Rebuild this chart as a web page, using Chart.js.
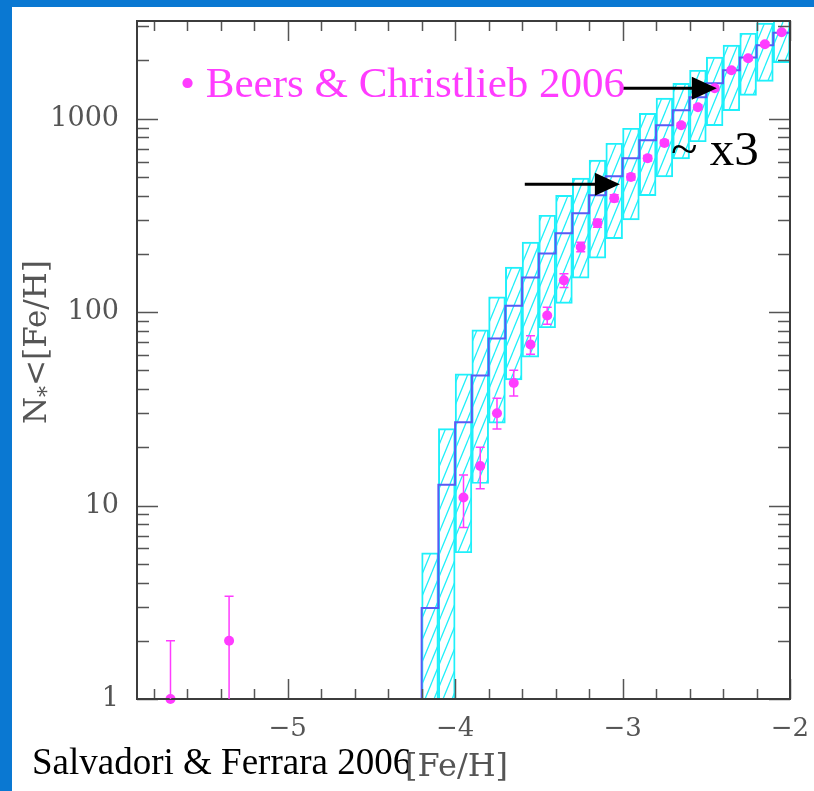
<!DOCTYPE html>
<html><head><meta charset="utf-8">
<script src="https://cdn.jsdelivr.net/npm/chart.js@4.4.0/dist/chart.umd.min.js"></script>
<style>
html,body{margin:0;padding:0;background:#fff;}
body{width:814px;height:791px;position:relative;overflow:hidden;}
#frameL{position:absolute;left:0;top:0;width:12px;height:791px;background:#0a78d2;}
#frameT{position:absolute;left:0;top:0;width:814px;height:7px;background:#0a78d2;}
canvas{position:absolute;left:0;top:0;}
</style></head><body>
<div id="frameL"></div><div id="frameT"></div>
<canvas id="c" width="814" height="791"></canvas>
<script>
// ---- model (Salvadori & Ferrara 2006): cumulative histogram, bins of 0.1 dex ----
const BIN = 0.1;
const binLeft  = [-4.2,-4.1,-4.0,-3.9,-3.8,-3.7,-3.6,-3.5,-3.4,-3.3,-3.2,-3.1,-3.0,-2.9,-2.8,-2.7,-2.6,-2.5,-2.4,-2.3,-2.2,-2.1];
const modelMedian = [2.95,12.8,27,47,73,108,151,201,256,325,402,504,625,774,925,1107,1292,1525,1780,2070,2400,2780];
const bandLow  = [0.5,0.5,5.7,13,26.7,44.6,58.5,83,111,150,190,240,300,400,500,620,760,920,1100,1320,1560,1950];
const bandHigh = [5.7,25,48,81,120,171,230,317,402,493,611,747,893,1067,1277,1525,1781,2080,2400,2767,3118,3550];

// ---- observations (Beers & Christlieb 2006) ----
const obsX  = [-5.7,-5.35,-3.95,-3.85,-3.75,-3.65,-3.55,-3.45,-3.35,-3.25,-3.15,-3.05,-2.95,-2.85,-2.75,-2.65,-2.55,-2.45,-2.35,-2.25,-2.15,-2.05];
const obsY  = [1,2,11,16,30,43,68,96,146,217,288,388,500,625,750,925,1147,1438,1780,2055,2427,2800];
const obsLo = [0.5,0.5,7.7,12.2,24.9,36.8,60.5,86.7,134,205,275,372,482,605,728,900,1115,1400,1735,2010,2375,2745];
const obsHi = [2.0,3.4,14.4,20.0,35.9,50,75.6,106,158,230,302,405,518,645,772,950,1180,1475,1825,2100,2480,2855];

// ---- axis ----
const X_MIN = -5.9, X_MAX = -2, Y_MIN = 1, Y_MAX = 3200;
const xLabelValues = [-5,-4,-3,-2];
const yLabelValues = [1,10,100,1000];

// ---- annotation arrows (data units) ----
const arrows = [{x0:-3.016, x1:-2.437, y:1438}, {x0:-3.584, x1:-3.016, y:459}];

const CYAN = '#1ff0fa', MAG = '#ff3cff', BLUE = '#5a5af5', AXIS = '#3c3c3c', TXT = '#555';

const canvas = document.getElementById('c');
const ctx = canvas.getContext('2d');

function makeHatch(){
  const w = 9, h = 22;
  const c = document.createElement('canvas'); c.width = w; c.height = h;
  const g = c.getContext('2d');
  g.strokeStyle = CYAN; g.lineWidth = 1.3;
  g.beginPath();
  for (const dx of [-w, 0, w]) { g.moveTo(dx, h); g.lineTo(dx + w, 0); }
  g.stroke();
  return ctx.createPattern(c, 'repeat');
}

const frameTicks = {
  id: 'frameTicks',
  afterDatasetsDraw(chart){
    const {ctx, chartArea:a, scales:{x, y}} = chart;
    ctx.save();
    ctx.strokeStyle = TXT; ctx.lineWidth = 1.5;
    ctx.beginPath();
    x.ticks.forEach(t => {
      const v = t.value;
      if (Math.abs(v*5 - Math.round(v*5)) > 1e-6) return;
      const major = Math.abs(v - Math.round(v)) < 1e-6;
      const L = major ? 20 : 10;
      const px = Math.round(x.getPixelForValue(v)) + 0.5;
      ctx.moveTo(px, a.bottom); ctx.lineTo(px, a.bottom - L);
      ctx.moveTo(px, a.top); ctx.lineTo(px, a.top + L);
    });
    y.ticks.forEach(t => {
      const v = t.value;
      if (v < Y_MIN - 1e-9 || v > Y_MAX) return;
      const p = Math.pow(10, Math.floor(Math.log10(v) + 1e-9));
      const m = v / p;
      if (Math.abs(m - Math.round(m)) > 1e-6) return;
      const L = Math.round(m) === 1 ? 21 : 12;
      const py = Math.round(y.getPixelForValue(v)) + 0.5;
      ctx.moveTo(a.left, py); ctx.lineTo(a.left + L, py);
      ctx.moveTo(a.right, py); ctx.lineTo(a.right - L, py);
    });
    ctx.stroke();
    ctx.strokeStyle = AXIS; ctx.lineWidth = 2;
    ctx.strokeRect(a.left, a.top, a.right - a.left, a.bottom - a.top);

    // error bars
    ctx.save();
    ctx.beginPath(); ctx.rect(a.left, a.top - 1, a.right - a.left, a.bottom - a.top + 1); ctx.clip();
    ctx.strokeStyle = MAG; ctx.lineWidth = 1.5;
    ctx.beginPath();
    obsX.forEach((vx, i) => {
      const px = x.getPixelForValue(vx);
      const p1 = y.getPixelForValue(obsLo[i]), p2 = y.getPixelForValue(obsHi[i]);
      ctx.moveTo(px, p1); ctx.lineTo(px, p2);
      ctx.moveTo(px - 4.5, p1); ctx.lineTo(px + 4.5, p1);
      ctx.moveTo(px - 4.5, p2); ctx.lineTo(px + 4.5, p2);
    });
    ctx.stroke();
    ctx.restore();
    ctx.restore();
  },
  afterDraw(chart){
    const {ctx, scales:{x, y}} = chart;
    ctx.save();
    // arrows
    ctx.fillStyle = '#000'; ctx.strokeStyle = '#000'; ctx.lineWidth = 3;
    arrows.forEach(ar => {
      const x0 = x.getPixelForValue(ar.x0), x1 = x.getPixelForValue(ar.x1), py = y.getPixelForValue(ar.y);
      ctx.beginPath(); ctx.moveTo(x0, py); ctx.lineTo(x1 - 22, py); ctx.stroke();
      ctx.beginPath(); ctx.moveTo(x1, py); ctx.lineTo(x1 - 25, py - 11.5); ctx.lineTo(x1 - 25, py + 11.5); ctx.closePath(); ctx.fill();
    });
    // texts
    ctx.textBaseline = 'alphabetic'; ctx.textAlign = 'left';
    ctx.fillStyle = MAG; ctx.font = '43px "Liberation Serif"';
    ctx.fillText('\u2022 Beers & Christlieb 2006', 180, 97);
    ctx.fillStyle = '#000'; ctx.font = '49px "Liberation Serif"';
    ctx.fillText('~ x3', 671, 165);
    ctx.font = '37px "Liberation Serif"';
    ctx.fillText('Salvadori & Ferrara 2006', 32, 774);
    // x title
    ctx.fillStyle = TXT; ctx.font = '32px "DejaVu Serif"';
    ctx.fillText('[Fe/H]', 405, 776);
    // y title (rotated) with subscript asterisk
    ctx.translate(46, 424); ctx.rotate(-Math.PI/2);
    ctx.font = '31px "DejaVu Serif"';
    let cx = 0;
    ctx.fillText('N', cx, 0); cx += ctx.measureText('N').width;
    ctx.font = '22px "DejaVu Serif"';
    ctx.fillText('*', cx, 8); cx += ctx.measureText('*').width;
    ctx.font = '31px "DejaVu Serif"';
    ctx.fillText('<[Fe/H]', cx, 0);
    ctx.restore();
  }
};

new Chart(ctx, {
  type: 'scatter',
  data: { datasets: [
    { type: 'bar', data: binLeft.map((b, i) => ({x: b + BIN/2, y: [bandLow[i], bandHigh[i]]})),
      backgroundColor: makeHatch(), borderColor: CYAN, borderWidth: 1.3, borderSkipped: false,
      barPercentage: 1, categoryPercentage: 1, grouped: false, order: 3 },
    { type: 'line', data: [{x: binLeft[0], y: 0.5}].concat(binLeft.map((b, i) => ({x: b + BIN, y: modelMedian[i]}))),
      stepped: 'after', borderColor: BLUE, borderWidth: 2, pointRadius: 0, fill: false, order: 2 },
    { type: 'scatter', data: obsX.map((v, i) => ({x: v, y: obsY[i]})),
      pointRadius: 5, pointBackgroundColor: MAG, pointBorderWidth: 0, order: 1, clip: false }
  ]},
  options: {
    responsive: false, animation: false, events: [],
    plugins: { legend: {display: false}, tooltip: {enabled: false} },
    layout: { padding: {left: 0, top: 21, right: 24, bottom: 0} },
    scales: {
      x: { type: 'linear', min: X_MIN, max: X_MAX, offset: false,
        grid: {display: false}, border: {display: false},
        ticks: { stepSize: 0.2, autoSkip: false, maxRotation: 0, includeBounds: false, padding: 7,
          color: TXT, font: {family: 'DejaVu Serif', size: 26},
          callback: v => xLabelValues.some(l => Math.abs(l - v) < 1e-6) ? '\u2212' + Math.abs(Math.round(v)) : '' },
        afterFit(s){ s.height = 92; s.paddingLeft = 0; s.paddingRight = 0; } },
      y: { type: 'logarithmic', min: Y_MIN, max: Y_MAX,
        grid: {display: false}, border: {display: false},
        ticks: { autoSkip: false, padding: 10, color: TXT, font: {family: 'DejaVu Serif', size: 27},
          callback: v => yLabelValues.some(l => Math.abs(l - v) < 1e-6) ? String(v) : '' },
        afterFit(s){ s.width = 137; s.paddingTop = 0; s.paddingBottom = 0; } }
    }
  },
  plugins: [frameTicks]
});
</script>
</body></html>
